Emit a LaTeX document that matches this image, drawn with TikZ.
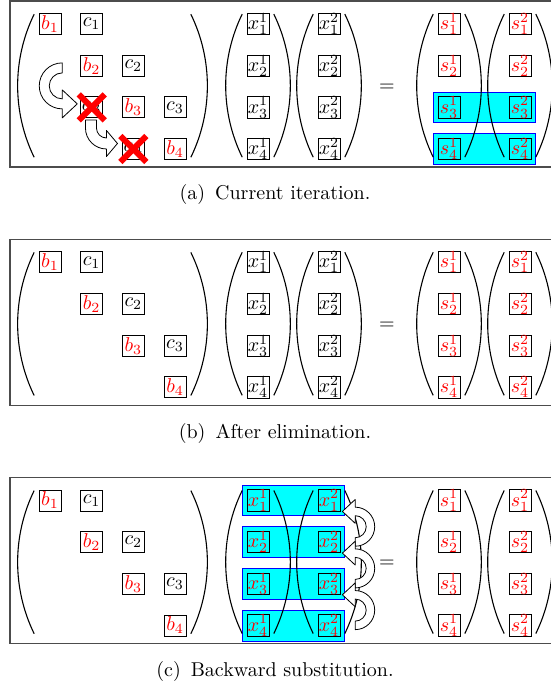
\documentclass[tikz,border=0pt]{standalone}
\usepackage{tikz}
\usetikzlibrary{matrix,fit,backgrounds}
\definecolor{hlcyan}{RGB}{0,255,255}
\definecolor{hlblue}{RGB}{0,0,255}
% hollow turning arrows, tip at #2
\def\uturn[#1](#2){\begin{scope}[shift={(#2)},#1]
  \draw[fatarrow] (-15,-31) arc[start angle=270,end angle=90,radius=13] -- (-15,-14) -- (0,0) -- (-15,14) -- (-15,5) arc[start angle=90,end angle=270,radius=23] -- cycle;
\end{scope}}
\def\bendturn[#1](#2){\begin{scope}[shift={(#2)},#1]
  \draw[fatarrow] (-21,-23.5) -- (-21,-15.5) arc[start angle=180,end angle=90,radius=10] -- (-11,-13) -- (0,0) -- (-11,13) -- (-11,5.5) arc[start angle=90,end angle=180,radius=21] -- (-32,-23.5) -- cycle;
\end{scope}}
% round brackets around matrix #1
\def\parens(#1){%
  \draw[paren] (#1.north west) ++(-3,2.5) arc[start angle=206,end angle=154,radius=163.2];
  \draw[paren] (#1.north east) ++(3,2.5) arc[start angle=-26,end angle=26,radius=163.2];}

\tikzset{
  entry/.style={draw, anchor=center, minimum width=11pt, minimum height=10.5pt, inner sep=0pt},
  vect/.style={matrix of math nodes, inner sep=0.5pt, nodes={entry},
    row sep={20.85pt,between origins}, column sep={20.85pt,between origins}},
  paren/.style={line width=0.55pt},
  panelframe/.style={draw=black!70, line width=0.6pt},
  hl/.style={draw=hlblue, fill=hlcyan, inner sep=2.2pt},
  strike/.style={red, line width=3pt},
  fatarrow/.style={draw=black, fill=white, line width=0.4pt, line join=round},
  subcap/.style={font=\normalsize}
}

\begin{document}
\begin{tikzpicture}[x=0.5pt,y=-0.5pt]
			\useasboundingbox (0,0) rectangle (550,688);
			
			%%%%% (a) %%%%%
			\draw[panelframe] (10,1) rectangle (570,167);
			
			\matrix (Aa) [vect] at (112.5,86.55) {
				|[text=red]| b_1 & c_1 & & \\
				& |[text=red]| b_2 & c_2 & \\
				& a_3 & |[text=red]| b_3 & c_3 \\
				& & a_4 & |[text=red]| b_4 \\
			};
			\matrix (Xa1) [vect] at (258,86.55) {x^1_1 \\ x^1_2 \\ x^1_3 \\ x^1_4 \\};
			\matrix (Xa2) [vect] at (329,86.55) {x^2_1 \\ x^2_2 \\ x^2_3 \\ x^2_4 \\};
			\node (eqa) at (387,87.5) {$=$};
			\matrix (Sa1) [vect, nodes={text=red}] at (449,86.55) {s^1_1 \\ s^1_2 \\ s^1_3 \\ s^1_4 \\};
			\matrix (Sa2) [vect, nodes={text=red}] at (520,86.55) {s^2_1 \\ s^2_2 \\ s^2_3 \\ s^2_4 \\};
			
			\begin{scope}[on background layer]
				\node[hl, fit=(Sa1-3-1)(Sa2-3-1)] (hla3) {};
				\node[hl, fit=(Sa1-4-1)(Sa2-4-1)] (hla4) {};
			\end{scope}
			\parens(Aa) \parens(Xa1) \parens(Xa2) \parens(Sa1) \parens(Sa2)
			
			\uturn[shift={(-3,-3.5)}](Aa-3-2.west)
			\bendturn[shift={(-4.5,-5.6)}](Aa-4-3.west)
			
			\draw[strike] (Aa-3-2.center) ++(-13,-13) -- ++(26,26);
			\draw[strike] (Aa-3-2.center) ++(13,-13) -- ++(-26,26);
			\draw[strike] (Aa-4-3.center) ++(-13,-13) -- ++(26,26);
			\draw[strike] (Aa-4-3.center) ++(13,-13) -- ++(-26,26);
			
			\node[subcap] (capa) at (275,195) {(a)\hspace{5pt}Current iteration.};
			
			%%%%% (b) %%%%%
			\draw[panelframe] (10,239.2) rectangle (570,405.2);
			
			\matrix (Ab) [vect] at (112.5,324.75) {
				|[text=red]| b_1 & c_1 & & \\
				& |[text=red]| b_2 & c_2 & \\
				& & |[text=red]| b_3 & c_3 \\
				& & & |[text=red]| b_4 \\
			};
			\matrix (Xb1) [vect] at (258,324.75) {x^1_1 \\ x^1_2 \\ x^1_3 \\ x^1_4 \\};
			\matrix (Xb2) [vect] at (329,324.75) {x^2_1 \\ x^2_2 \\ x^2_3 \\ x^2_4 \\};
			\node (eqb) at (387,325.7) {$=$};
			\matrix (Sb1) [vect, nodes={text=red}] at (449,324.75) {s^1_1 \\ s^1_2 \\ s^1_3 \\ s^1_4 \\};
			\matrix (Sb2) [vect, nodes={text=red}] at (520,324.75) {s^2_1 \\ s^2_2 \\ s^2_3 \\ s^2_4 \\};
			\parens(Ab) \parens(Xb1) \parens(Xb2) \parens(Sb1) \parens(Sb2)
			
			\node[subcap] (capb) at (275,433.2) {(b)\hspace{5pt}After elimination.};
			
			%%%%% (c) %%%%%
			\draw[panelframe] (10,477.4) rectangle (570,643.4);
			
			\matrix (Ac) [vect] at (112.5,562.95) {
				|[text=red]| b_1 & c_1 & & \\
				& |[text=red]| b_2 & c_2 & \\
				& & |[text=red]| b_3 & c_3 \\
				& & & |[text=red]| b_4 \\
			};
			\matrix (Xc1) [vect, nodes={text=red}] at (258,562.95) {x^1_1 \\ x^1_2 \\ x^1_3 \\ x^1_4 \\};
			\matrix (Xc2) [vect, nodes={text=red}] at (329,562.95) {x^2_1 \\ x^2_2 \\ x^2_3 \\ x^2_4 \\};
			\node (eqc) at (387,563.9) {$=$};
			\matrix (Sc1) [vect, nodes={text=red}] at (449,562.95) {s^1_1 \\ s^1_2 \\ s^1_3 \\ s^1_4 \\};
			\matrix (Sc2) [vect, nodes={text=red}] at (520,562.95) {s^2_1 \\ s^2_2 \\ s^2_3 \\ s^2_4 \\};
			
			\begin{scope}[on background layer]
				\foreach \i in {1,...,4}
					\node[hl, fit=(Xc1-\i-1)(Xc2-\i-1)] (hlc\i) {};
			\end{scope}
			\parens(Ac) \parens(Xc1) \parens(Xc2) \parens(Sc1) \parens(Sc2)
			
			\foreach \i in {1,2,3}
				{\uturn[shift={(2,11)},rotate=180,scale=0.85](Xc2-\i-1.east)}
			
			\node[subcap] (capc) at (275,671.4) {(c)\hspace{5pt}Backward substitution.};
\end{tikzpicture}
\end{document}
